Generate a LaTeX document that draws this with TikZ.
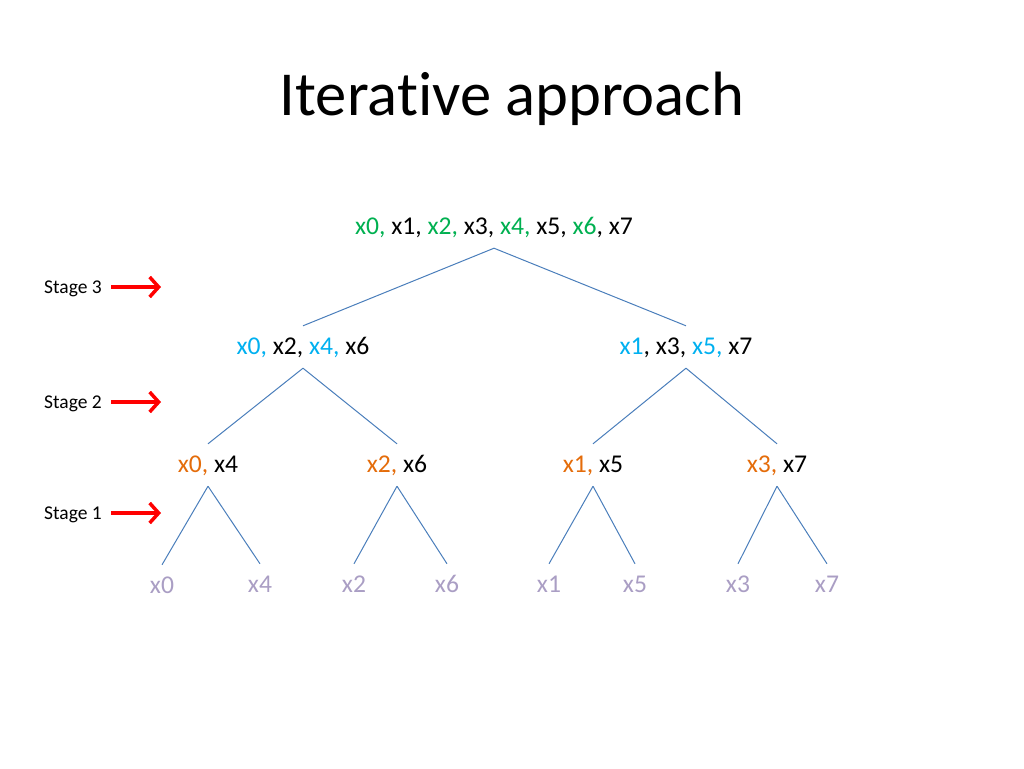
\documentclass[tikz,border=0pt]{standalone}
\usepackage{fontspec}
\setmainfont{Carlito}[Ligatures={NoCommon}]
\usetikzlibrary{arrows.meta}
\definecolor{cgreen}{RGB}{0,176,80}
\definecolor{cblue}{RGB}{0,176,240}
\definecolor{corange}{RGB}{228,108,10}
\definecolor{cleaf}{RGB}{170,158,196}
\definecolor{cline}{RGB}{74,126,187}
\definecolor{cred}{RGB}{255,0,0}
\begin{document}
\begin{tikzpicture}[x=1pt,y=-1pt,
  lbl/.style={font=\fontsize{25.6}{30}\selectfont, inner sep=0pt, text height=19.5pt, text depth=4.5pt, minimum height=42pt},
  leaf/.style={lbl, text=cleaf},
  edge/.style={draw=cline, line width=1pt},
  stagelbl/.style={font=\fontsize{19.5}{23}\selectfont, inner sep=0pt, anchor=west},
  redarrow/.style={draw=cred, line width=3.5pt, -{Straight Barb[length=9pt,width=20pt]}}]
\useasboundingbox (0,0) rectangle (1024,768);
\node[font=\fontsize{62.6}{70}\selectfont, inner sep=0pt] (title) at (512,99) {Iterative approach};

\node[lbl] (r) at (494,227) {\textcolor{cgreen}{x0,} x1, \textcolor{cgreen}{x2,} x3, \textcolor{cgreen}{x4,} x5, \textcolor{cgreen}{x6}, x7};

\node[lbl] (a) at (303,347) {\textcolor{cblue}{x0,} x2, \textcolor{cblue}{x4,} x6};
\node[lbl] (b) at (686,347) {\textcolor{cblue}{x1}, x3, \textcolor{cblue}{x5,} x7};

\node[lbl] (c1) at (208,465) {\textcolor{corange}{x0,} x4};
\node[lbl] (c2) at (397,465) {\textcolor{corange}{x2,} x6};
\node[lbl] (c3) at (593,465) {\textcolor{corange}{x1,} x5};
\node[lbl] (c4) at (777,465) {\textcolor{corange}{x3,} x7};

\node[leaf] (l0) at (162,586) {x0};
\node[leaf] (l4) at (260,585) {x4};
\node[leaf] (l2) at (354,585) {x2};
\node[leaf] (l6) at (447,585) {x6};
\node[leaf] (l1) at (549,585) {x1};
\node[leaf] (l5) at (635,585) {x5};
\node[leaf] (l3) at (738,585) {x3};
\node[leaf] (l7) at (827,585) {x7};

\draw[edge] (r.south) -- (a.north);
\draw[edge] (r.south) -- (b.north);
\draw[edge] (a.south) -- (c1.north);
\draw[edge] (a.south) -- (c2.north);
\draw[edge] (b.south) -- (c3.north);
\draw[edge] (b.south) -- (c4.north);
\draw[edge] (c1.south) -- (l0.north);
\draw[edge] (c1.south) -- (l4.north);
\draw[edge] (c2.south) -- (l2.north);
\draw[edge] (c2.south) -- (l6.north);
\draw[edge] (c3.south) -- (l1.north);
\draw[edge] (c3.south) -- (l5.north);
\draw[edge] (c4.south) -- (l3.north);
\draw[edge] (c4.south) -- (l7.north);

\node[stagelbl] (s3) at (44,288.5) {Stage 3};
\node[stagelbl] (s2) at (44,403.5) {Stage 2};
\node[stagelbl] (s1) at (44,514.5) {Stage 1};
\coordinate (s3a) at (111,287); \coordinate (s3b) at (161,287);
\coordinate (s2a) at (111,402); \coordinate (s2b) at (161,402);
\coordinate (s1a) at (111,513); \coordinate (s1b) at (161,513);
\draw[redarrow] (s3a) -- (s3b);
\draw[redarrow] (s2a) -- (s2b);
\draw[redarrow] (s1a) -- (s1b);
\end{tikzpicture}
\end{document}
